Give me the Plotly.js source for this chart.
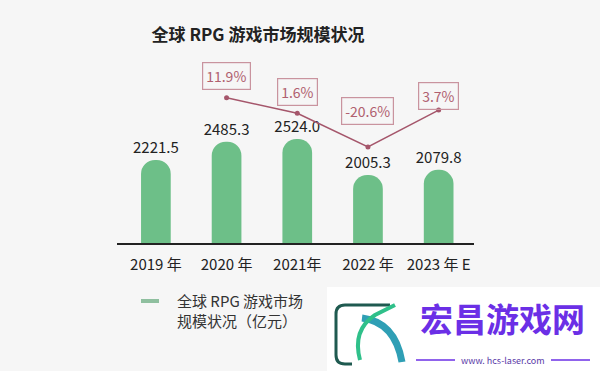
<!DOCTYPE html>
<html><head><meta charset="utf-8">
<script src="https://cdn.plot.ly/plotly-3.0.1.min.js"></script>
<style>html,body{margin:0;padding:0;background:#f6f6f6;}#c{width:600px;height:371px;}</style>
</head><body><div id="c"></div>
<script>
const years = ["2019 年", "2020 年", "2021年", "2022 年", "2023 年 E"];
const marketSize = [2221.5, 2485.3, 2524.0, 2005.3, 2079.8];
const growthYears = ["2020 年", "2021年", "2022 年", "2023 年 E"];
const growthRate = [11.9, 1.6, -20.6, 3.7];
const growthLabels = ["11.9%", "1.6%", "-20.6%", "3.7%"];
const titleText = "全球 RPG 游戏市场规模状况";
const legendText = "全球 RPG 游戏市场<br>规模状况（亿元）";

const FONT = "Noto Sans CJK SC, Noto Sans, sans-serif";
const L = 117, R = 474, T = 60, B = 243, W = 600, H = 371;
const px = x => (x - L) / (R - L);
const py = y => (B - y) / (B - T);
const labelShift = [22, 21, 36, 14];

const bars = {
  type: "bar", x: years, y: marketSize,
  marker: {color: "#6dbf88", cornerradius: 15},
  width: 0.42,
  text: marketSize.map(v => v.toFixed(1)),
  textposition: "outside", cliponaxis: false, constraintext: "none",
  textfont: {family: FONT, size: 15, color: "#222"},
  hoverinfo: "skip", showlegend: false
};
const line = {
  type: "scatter", mode: "lines+markers", x: growthYears, y: growthRate, yaxis: "y2",
  line: {color: "#a5566b", width: 1.5},
  marker: {color: "#a5566b", size: 5},
  cliponaxis: false, showlegend: false, hoverinfo: "skip"
};

const annotations = growthYears.map((x, i) => ({
  x: x, y: growthRate[i], xref: "x", yref: "y2", text: growthLabels[i],
  showarrow: false, yshift: labelShift[i],
  font: {family: FONT, size: 14, color: "#b0606f"},
  bordercolor: "#c9939e", borderwidth: 1.2, borderpad: 3, bgcolor: "rgba(0,0,0,0)"
}));
annotations.push({
  xref: "paper", yref: "paper", x: px(175), y: py(310), xanchor: "left", yanchor: "middle",
  align: "left", showarrow: false, text: legendText,
  font: {family: FONT, size: 15, color: "#333"}
});
annotations.push({
  xref: "paper", yref: "paper", x: px(502), y: py(318), xanchor: "center", yanchor: "middle",
  showarrow: false, text: "<b>宏昌游戏网</b>",
  font: {family: FONT, size: 33, color: "#6b2fe6"}
});
annotations.push({
  xref: "paper", yref: "paper", x: px(503), y: py(360), xanchor: "center", yanchor: "middle",
  showarrow: false, text: "www. hcs-laser.com",
  font: {family: FONT, size: 9, color: "#5a3aa8"}
});

const shapes = [
  {type: "rect", xref: "paper", yref: "paper", x0: px(141), x1: px(159), y0: py(299), y1: py(303),
   fillcolor: "#8fbf9f", line: {width: 0}},
  {type: "rect", xref: "paper", yref: "paper", x0: px(327), x1: px(600), y0: py(287), y1: py(371),
   fillcolor: "#ffffff", line: {width: 0}, layer: "below"},
  {type: "line", xref: "paper", yref: "paper", x0: px(416), x1: px(455), y0: py(360), y1: py(360),
   line: {color: "#6b2fe6", width: 1.5}},
  {type: "line", xref: "paper", yref: "paper", x0: px(551), x1: px(590), y0: py(360), y1: py(360),
   line: {color: "#6b2fe6", width: 1.5}},
  {type: "path", xref: "paper", yref: "paper",
   path: "M " + px(390) + "," + py(305) + " L " + px(345) + "," + py(305) + " Q " + px(336) + "," + py(305) + " " + px(336) + "," + py(314) +
         " L " + px(336) + "," + py(355) + " Q " + px(336) + "," + py(364) + " " + px(345) + "," + py(364) + " L " + px(352) + "," + py(364),
   line: {color: "#1f5a50", width: 3}},
  {type: "path", xref: "paper", yref: "paper",
   path: "M " + px(362) + "," + py(318) + " Q " + px(395) + "," + py(322) + " " + px(402) + "," + py(362),
   line: {color: "#2f9fb5", width: 7}},
  {type: "path", xref: "paper", yref: "paper",
   path: "M " + px(360) + "," + py(360) + " Q " + px(352) + "," + py(330) + " " + px(375) + "," + py(315) + " L " + px(395) + "," + py(305),
   line: {color: "#2fc08a", width: 4}}
];

const layout = {
  width: W, height: H,
  margin: {l: L, r: W - R, t: T, b: H - B, pad: 0},
  paper_bgcolor: "#f6f6f6", plot_bgcolor: "rgba(0,0,0,0)",
  title: {text: "<b>" + titleText + "</b>", x: 258 / W, xref: "container", xanchor: "center",
          y: 1 - 35 / H, yref: "container", yanchor: "middle",
          font: {family: FONT, size: 17, color: "#222"}},
  xaxis: {type: "category", range: [-0.55, 4.5], showline: true, linecolor: "#222", linewidth: 1.5,
          showgrid: false, zeroline: false, ticks: "", ticklabelstandoff: 7,
          tickfont: {family: FONT, size: 15, color: "#222"}, fixedrange: true},
  yaxis: {range: [1025, 1025 + 183 / 0.0694], visible: false, showgrid: false, zeroline: false},
  yaxis2: {overlaying: "y", range: [-83.85, 36.7], visible: false, showgrid: false, zeroline: false},
  annotations: annotations, shapes: shapes,
  bargap: 0.58
};
Plotly.newPlot("c", [bars, line], layout, {displayModeBar: false, staticPlot: true});
</script></body></html>
